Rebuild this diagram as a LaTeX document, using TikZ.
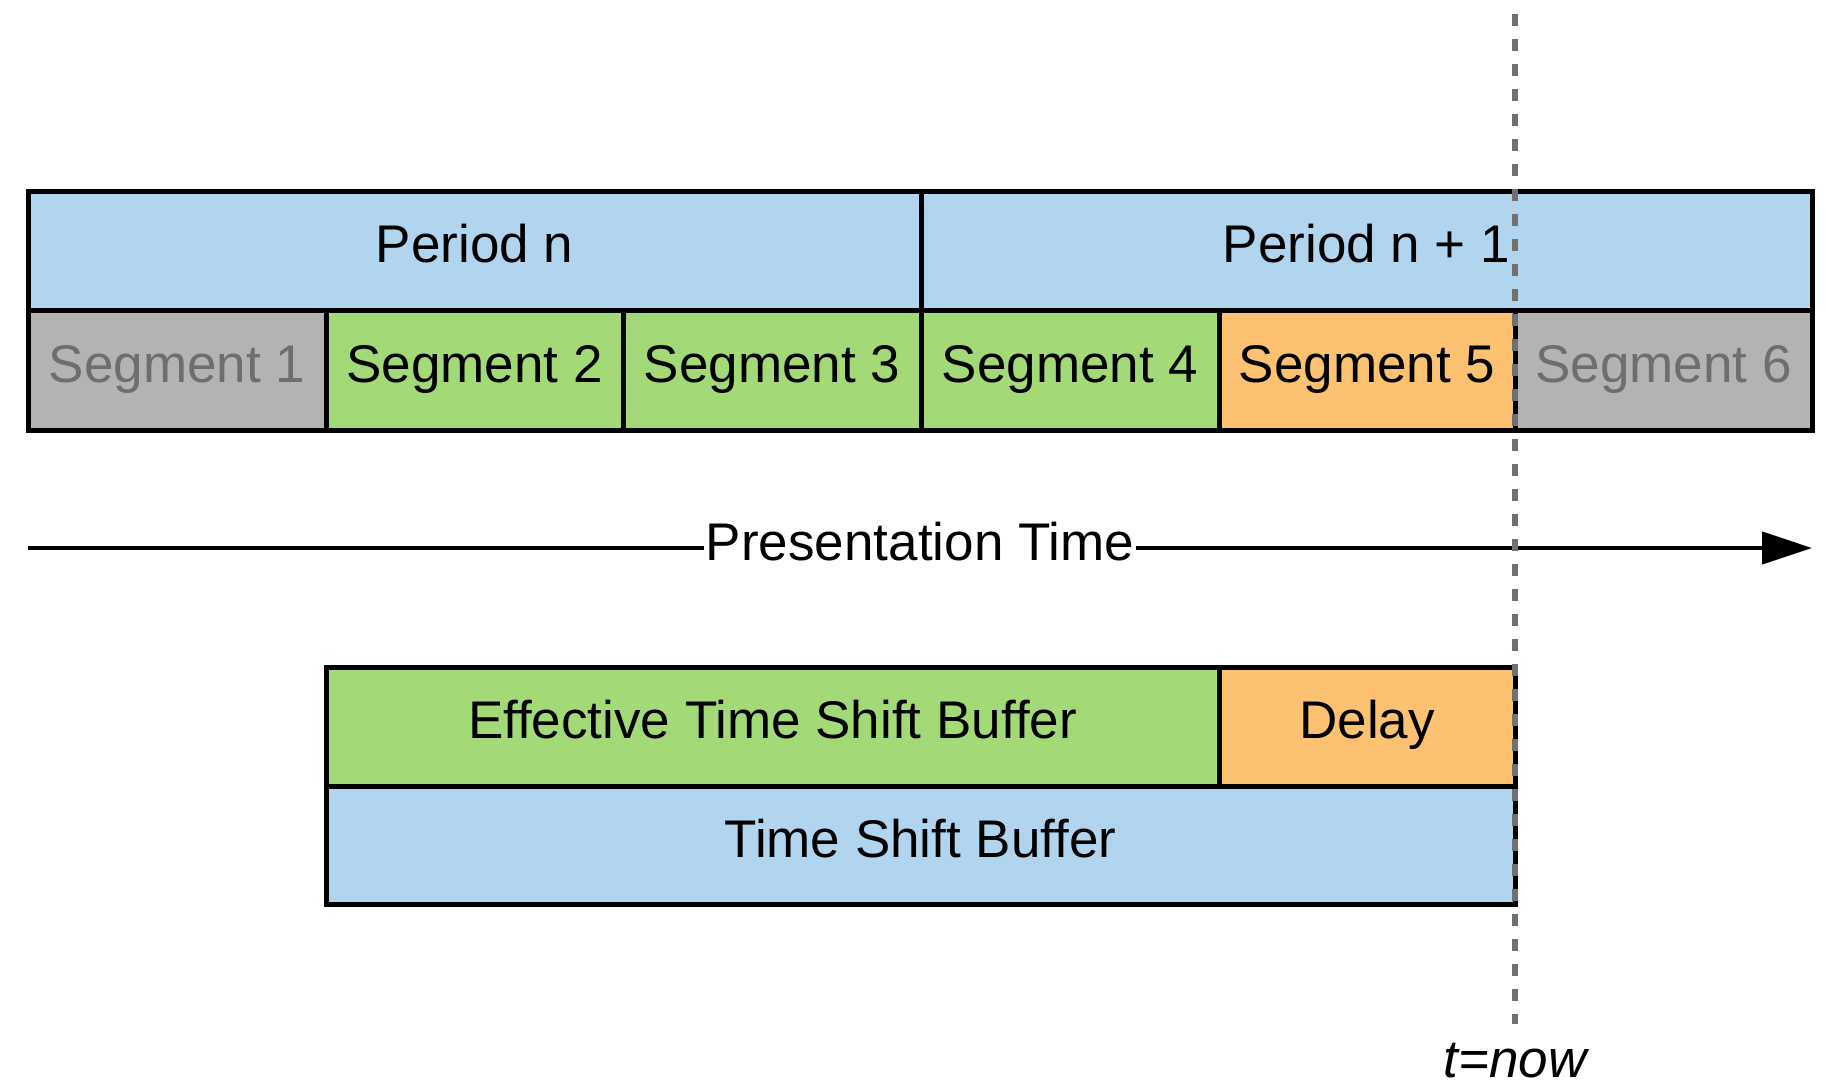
\documentclass[tikz,border=0pt]{standalone}
\usepackage{fontspec}
\setmainfont{Liberation Sans}
\usetikzlibrary{arrows.meta}
\definecolor{pblue}{RGB}{177,213,239}
\definecolor{pgreen}{RGB}{163,217,119}
\definecolor{porange}{RGB}{252,193,113}
\definecolor{pgray}{RGB}{179,179,179}
\definecolor{ptext}{RGB}{110,110,110}
\definecolor{pdash}{RGB}{112,112,112}
\begin{document}
\begin{tikzpicture}[x=1pt,y=-1pt,
  box/.style={draw=black, line width=5pt, inner sep=0pt, outer sep=0pt, anchor=north west,
    font=\fontsize{53}{60}\selectfont, text=black},
  boxtext/.style={text height=38pt, text depth=14pt},
  lbl/.style={font=\fontsize{53}{60}\selectfont, inner sep=0pt},
  nowline/.style={draw=pdash, line width=5.5pt, dash pattern=on 12pt off 13pt}]
\useasboundingbox (0,0) rectangle (1825,1085);
\tikzset{every node/.append style={}}
% periods
\node (pn)  [box, boxtext, fill=pblue, minimum width=893pt, minimum height=119pt] at (28,191) {Period n};
\node (pn1) [box, boxtext, fill=pblue, minimum width=891pt, minimum height=119pt] at (921,191) {Period n + 1};
% segments
\node (s1) [box, boxtext, fill=pgray,   text=ptext, minimum width=298pt, minimum height=120pt] at (28,310) {Segment 1};
\node (s2) [box, boxtext, fill=pgreen,  minimum width=297pt, minimum height=120pt] at (326,310) {Segment 2};
\node (s3) [box, boxtext, fill=pgreen,  minimum width=298pt, minimum height=120pt] at (623,310) {Segment 3};
\node (s4) [box, boxtext, fill=pgreen,  minimum width=298pt, minimum height=120pt] at (921,310) {Segment 4};
\node (s5) [box, boxtext, fill=porange, minimum width=296pt, minimum height=120pt] at (1219,310) {Segment 5};
\node (s6) [box, boxtext, fill=pgray,   text=ptext, minimum width=297pt, minimum height=120pt] at (1515,310) {Segment 6};
% presentation time axis
\coordinate (a0) at (28,548);
\coordinate (a1) at (1812,548);
\draw[line width=4.5pt, -{Triangle[length=50pt,width=32pt]}] (a0) -- (a1);
\node (pt) [lbl, boxtext, fill=white, inner xsep=2pt] at (920,548) {Presentation Time};
% buffers
\node (etsb) [box, boxtext, fill=pgreen,  minimum width=893pt, minimum height=119pt] at (326,667) {Effective Time Shift Buffer};
\node (dl)   [box, boxtext, fill=porange, minimum width=296pt, minimum height=119pt] at (1219,667) {Delay};
\node (tsb)  [box, boxtext, fill=pblue,   minimum width=1189pt, minimum height=118pt] at (326,786) {Time Shift Buffer};
% now line
\coordinate (d0) at (1515,14);
\coordinate (d1) at (1515,1024);
\draw[nowline] (d0) -- (d1);
\node (now) [lbl, anchor=base, font=\fontsize{53}{60}\selectfont\itshape] at (1515,1077) {t=now};
\end{tikzpicture}
\end{document}
